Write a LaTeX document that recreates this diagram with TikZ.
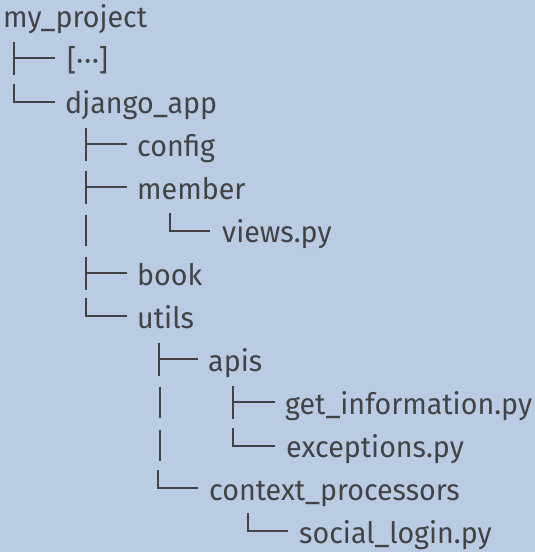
\documentclass[tikz,border=0pt]{standalone}
\usepackage{fontspec}
\setmainfont[FakeStretch=0.97]{Fira Sans}
\definecolor{bg}{HTML}{BACCE4}
\definecolor{ink}{HTML}{434343}
\newcommand{\treeTee}[3]{\draw[conn] (#1,#2-16.5) -- (#1,#2+16.5); \draw[conn] (#1,#2) -- (#3,#2);}
\newcommand{\treeEll}[3]{\draw[conn] (#1,#2-18) -- (#1,#2) -- (#3,#2);}
\newcommand{\treePipe}[2]{\draw[conn] (#1,#2-15.5) -- (#1,#2+15.5);}
\begin{document}
\begin{tikzpicture}[x=1pt,y=-1pt]
\tikzset{
  lbl/.style={anchor=base west, inner sep=0pt, text=ink, font=\fontsize{29.5}{31}\selectfont},
  conn/.style={draw=ink, line width=2pt, line join=miter}
}
\fill[bg] (0,0) rectangle (535,552);
\useasboundingbox (0,0) rectangle (535,552);
% labels
\node[lbl] (root) at (3,27) {my\_project};
\node[lbl] (etc) at (67,70) {[·\kern1pt·\kern1pt·]};
\node[lbl] (django) at (65,113) {django\_app};
\node[lbl] (config) at (137,156) {config};
\node[lbl] (member) at (137,199) {member};
\node[lbl] (views) at (222,242) {views.py};
\node[lbl] (book) at (137,285) {book};
\node[lbl] (utils) at (137,328) {utils};
\node[lbl] (apis) at (208,371) {apis};
\node[lbl] (getinfo) at (285,414) {get\_information.py};
\node[lbl] (exc) at (286,457) {exceptions.py};
\node[lbl] (ctx) at (209,500) {context\_processors};
\node[lbl] (social) at (299,543) {social\_login.py};
% connectors
\treeTee{14}{58}{55}
\treeEll{14}{102}{55}
\treeTee{86}{144}{127}
\treeTee{86}{187}{127}
\treePipe{86}{230}
\treeEll{170}{231}{210}
\treeTee{86}{273}{127}
\treeEll{86}{316}{127}
\treeTee{159}{359}{198}
\treePipe{160}{402}
\treeTee{233}{402}{275}
\treePipe{160}{445}
\treeEll{233}{446}{275}
\treeEll{158}{488}{198}
\treeEll{248}{531}{288}
\end{tikzpicture}
\end{document}
